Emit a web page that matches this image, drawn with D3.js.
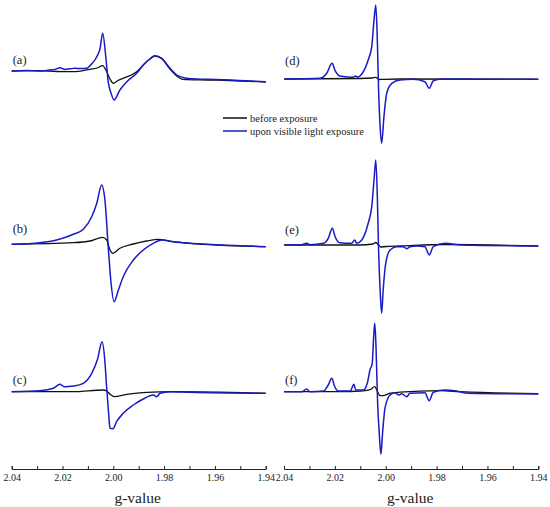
<!DOCTYPE html>
<html><head><meta charset="utf-8">
<script src="https://cdn.jsdelivr.net/npm/d3@7"></script>
<style>body{margin:0;background:#fff}svg{display:block}text{font-family:"Liberation Serif","DejaVu Serif",serif}</style>
</head><body>
<script>
// ---------- DATA ----------
const tickValues = [2.04, 2.03, 2.02, 2.01, 2.00, 1.99, 1.98, 1.97, 1.96, 1.95, 1.94];
const tickLabels = ["2.04", "2.02", "2.00", "1.98", "1.96", "1.94"];
const panelLabels = ["(a)", "(b)", "(c)", "(d)", "(e)", "(f)"];
const seriesNames = ["before exposure", "upon visible light exposure"];
const xAxisTitle = "g-value";

// (a)
const aBeforeG = [2.0400,2.0300,2.0220,2.0157,2.0092,2.0064,2.0042,2.0026,2.0013,2.0000,1.9982,1.9961,1.9908,1.9882,1.9856,1.9836,1.9809,1.9777,1.9750,1.9726,1.9632,1.9541,1.9400];
const aBeforeI = [0,0.3,-0.5,-0.7,1.7,3,5.3,-0.7,-8,-12.3,-9.5,-7.3,-0.7,6,12,15,12.3,2,-5,-8.3,-9,-9.5,-11];
const aAfterG = [2.0400,2.0340,2.0289,2.0250,2.0230,2.0210,2.0190,2.0170,2.0151,2.0130,2.0104,2.0092,2.0065,2.0052,2.0042,2.0029,2.0020,2.0009,1.9997,1.9974,1.9947,1.9908,1.9882,1.9856,1.9836,1.9809,1.9777,1.9750,1.9711,1.9690,1.9632,1.9541,1.9480,1.9400];
const aAfterI = [0,0.5,0,1,1.5,3.3,1.5,2.2,2.7,2.4,2.7,5.3,14.3,22.7,37.7,12.7,-10.7,-22,-29,-19,-10.7,-2.3,6,12,15.3,12.7,2.7,-4,-7.3,-7.8,-8.3,-9,-9.8,-10.7];

// (b)
const bBeforeG = [2.0400,2.0157,2.0092,2.0042,2.0026,2.0013,2.0002,1.9974,1.9921,1.9869,1.9823,1.9764,1.9698,1.9400];
const bBeforeI = [0,1.6,3.3,7,4.3,-5.7,-9,-4,0.3,3.3,5,2.6,1,-2.4];
const bAfterG = [2.0400,2.0289,2.0223,2.0157,2.0118,2.0085,2.0065,2.0046,2.0033,2.0020,2.0010,1.9997,1.9980,1.9961,1.9921,1.9882,1.9843,1.9809,1.9764,1.9698,1.9632,1.9400];
const bAfterI = [0,1.6,4.3,10,15,27.6,41,59.3,44.3,-2.4,-35.7,-57.4,-45.7,-32.4,-15.7,-5.7,1,4.3,2.6,1,0,-2.4];

// (c)
const cBeforeG = [2.0400,2.0157,2.0039,2.0026,2.0013,1.9997,1.9947,1.9869,1.9764,1.9400];
const cBeforeI = [0,0,1.7,0.7,-2.5,-5,-2.6,-0.6,0,-1.6];
const cAfterG = [2.0400,2.0289,2.0236,2.0210,2.0194,2.0157,2.0118,2.0085,2.0063,2.0044,2.0033,2.0026,2.0018,2.0013,2.0001,1.9987,1.9961,1.9921,1.9882,1.9843,1.9829,1.9816,1.9777,1.9698,1.9400];
const cAfterI = [0,1,3.4,7.4,5,5.7,8.4,18.4,31.7,50,30,3.4,-23.3,-36.6,-37,-30,-21.6,-13.3,-7.3,-3.3,-5,-1.6,0,-0.6,-1.6];

// (d)
const dBeforeG = [2.0400,2.0101,2.0054,2.0039,2.0026,2.0011,1.9944,1.9400];
const dBeforeI = [0,0.5,1,1.7,-0.5,-0.3,0,-0.3];
const dAfterG = [2.0396,2.0258,2.0232,2.0211,2.0199,2.0180,2.0127,2.0121,2.0109,2.0094,2.0069,2.0055,2.0046,2.0039,2.0033,2.0028,2.0022,2.0016,2.0007,1.9996,1.9976,1.9944,1.9892,1.9846,1.9829,1.9813,1.9780,1.9400];
const dAfterI = [0,0.7,5.7,15.7,8.3,3,1.7,3,2,5,19,32.3,59,74,39,-11,-47.7,-64.3,-37.7,-14.3,-4.3,-1,-0.3,-2.7,-9.3,-1.7,0,-0.3];

// (e)
const eBeforeG = [2.0400,2.0101,2.0050,2.0039,2.0030,2.0019,1.9999,1.9944,1.9767,1.9400];
const eBeforeI = [0,0,1,2.5,0.5,-2,-1.5,-1,0.5,-1];
const eAfterG = [2.0396,2.0337,2.0311,2.0298,2.0245,2.0226,2.0210,2.0199,2.0180,2.0134,2.0122,2.0114,2.0094,2.0069,2.0055,2.0046,2.0039,2.0033,2.0028,2.0022,2.0016,2.0010,2.0000,1.9983,1.9957,1.9932,1.9917,1.9905,1.9878,1.9846,1.9829,1.9813,1.9767,1.9701,1.9400];
const eAfterI = [0,0,1.7,0.3,1.7,6.7,16.7,8.3,2.3,1.7,5,1.7,5,21.7,38.3,65,85,48.3,-5,-45,-68.3,-45,-18.3,-5,-1.7,-1.7,-3.7,-1.7,-1,-1.7,-10,-1.7,1.7,0,-1];

// (f)
const fBeforeG = [2.0400,2.0180,2.0101,2.0062,2.0043,2.0034,2.0022,2.0011,1.9983,1.9944,1.9787,1.9708,1.9400];
const fBeforeI = [0,0,0.5,2,5,1,-4,-4,-1.5,-0.5,1,0,-2];
const fAfterG = [2.0400,2.0330,2.0311,2.0298,2.0245,2.0226,2.0212,2.0202,2.0186,2.0140,2.0125,2.0118,2.0088,2.0071,2.0062,2.0053,2.0047,2.0043,2.0038,2.0032,2.0025,2.0019,2.0012,2.0003,1.9983,1.9964,1.9948,1.9937,1.9917,1.9905,1.9846,1.9829,1.9813,1.9767,1.9728,1.9675,1.9400];
const fAfterI = [0,0,2.7,0,0.7,6.7,13.4,6,0.7,0.7,7.4,1.7,1.7,10,21.7,28.4,56.7,68.4,43.4,-10,-43.3,-62.6,-40,-16.6,-3.3,-1,-3.3,-2,-5,-1.6,-1,-9,-0.6,1.7,1,-1.6,-2.3];

// ---------- LAYOUT ----------
const W = 550, H = 507;
const colors = {before: "#111111", after: "#1a1ac4"};
const font = '"Liberation Serif", "DejaVu Serif", serif';
const columns = [
  {x0: 11.7, x1: 265.7},
  {x0: 284, x1: 538.3}
];
const axisY = 469;
const panels = [
  {col: 0, base: 71,  label: panelLabels[0], bG: aBeforeG, bI: aBeforeI, aG: aAfterG, aI: aAfterI},
  {col: 0, base: 244.3, label: panelLabels[1], bG: bBeforeG, bI: bBeforeI, aG: bAfterG, aI: bAfterI},
  {col: 0, base: 391.7, label: panelLabels[2], bG: cBeforeG, bI: cBeforeI, aG: cAfterG, aI: cAfterI},
  {col: 1, base: 79,  label: panelLabels[3], bG: dBeforeG, bI: dBeforeI, aG: dAfterG, aI: dAfterI},
  {col: 1, base: 245, label: panelLabels[4], bG: eBeforeG, bI: eBeforeI, aG: eAfterG, aI: eAfterI},
  {col: 1, base: 391.7, label: panelLabels[5], bG: fBeforeG, bI: fBeforeI, aG: fAfterG, aI: fAfterI}
];
const labelDy = [-7, -11, -8, -14, -11, -8];

const svg = d3.select("body").append("svg").attr("width", W).attr("height", H);

const xScales = columns.map(c => d3.scaleLinear().domain([2.04, 1.94]).range([c.x0, c.x1]));

// axes
columns.forEach((c, i) => {
  const x = xScales[i];
  const g = svg.append("g").attr("transform", `translate(0,${axisY})`);
  const ax = d3.axisBottom(x).tickValues(tickValues).tickSize(-3).tickPadding(5)
    .tickFormat(v => {
      const s = v.toFixed(2);
      return tickLabels.includes(s) ? s : "";
    });
  g.call(ax);
  g.attr("font-family", null).attr("font-size", null);
  g.select(".domain").attr("stroke", "#222").attr("stroke-width", 1);
  g.selectAll(".tick line").attr("stroke", "#222").attr("stroke-width", 1);
  g.selectAll(".tick text").style("font-family", font).style("font-size", "10px").attr("fill", "#222");
  svg.append("text").attr("x", (c.x0 + c.x1) / 2 - 1).attr("y", 503)
    .attr("text-anchor", "middle").style("font-family", font).style("font-size", "15.5px")
    .attr("fill", "#222").text(xAxisTitle);
});

// spectra
panels.forEach((p, k) => {
  const x = xScales[p.col];
  const y = d3.scaleLinear().domain([0, 100]).range([p.base, p.base - 100]);
  const line = d3.line().x(d => x(d[0])).y(d => y(d[1])).curve(d3.curveMonotoneX);
  const before = p.bG.map((g, i) => [g, p.bI[i]]);
  const after = p.aG.map((g, i) => [g, p.aI[i]]);
  svg.append("path").datum(before).attr("d", line).attr("fill", "none")
    .attr("stroke", colors.before).attr("stroke-width", 1.3).attr("stroke-linejoin", "round");
  svg.append("path").datum(after).attr("d", line).attr("fill", "none")
    .attr("stroke", colors.after).attr("stroke-width", 1.5).attr("stroke-linejoin", "round");
  svg.append("text").attr("x", columns[p.col].x0 + 1).attr("y", p.base + labelDy[k])
    .style("font-family", font).style("font-size", "12.5px").attr("fill", "#222").text(p.label);
});

// legend
const legend = svg.append("g").attr("transform", "translate(223,118)");
[colors.before, colors.after].forEach((col, i) => {
  legend.append("line").attr("x1", 0).attr("x2", 24).attr("y1", i * 13).attr("y2", i * 13)
    .attr("stroke", col).attr("stroke-width", 1.5);
  legend.append("text").attr("x", 27).attr("y", i * 13 + 3.5).style("font-family", font)
    .style("font-size", "10.5px").attr("fill", "#222").text(seriesNames[i]);
});
</script>
</body></html>
